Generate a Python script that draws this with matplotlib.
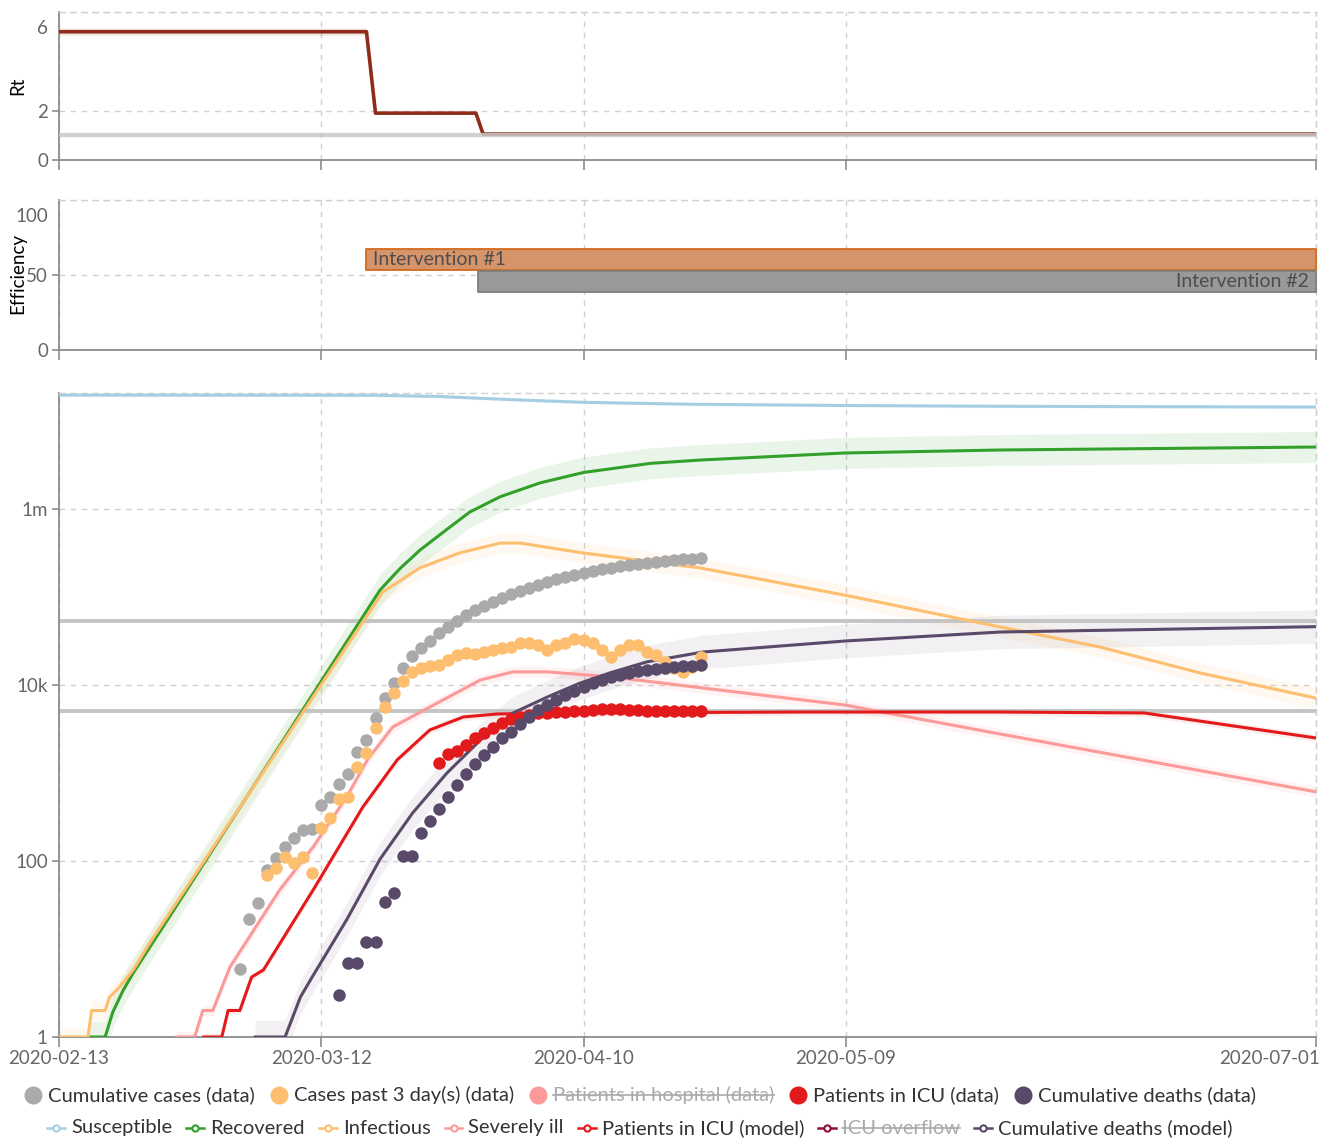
import numpy as np
import matplotlib
matplotlib.use('Agg')
import matplotlib.pyplot as plt
import matplotlib.transforms as mtransforms
from matplotlib.lines import Line2D
from matplotlib.ticker import NullLocator

plt.rcParams['font.family'] = ['Lato', 'DejaVu Sans']

# x axis: days since 2020-02-13
tick_days = [0, 29, 58, 87, 139]
tick_labels = ['2020-02-13', '2020-03-12', '2020-04-10', '2020-05-09', '2020-07-01']

# Rt panel
rt_days = [0, 34, 35, 46.1, 46.9, 139]
rt_values = [5.2, 5.2, 1.9, 1.9, 1.05, 1.05]
rt_rel_spread = 0.03
rt_reference = 1.0

# interventions (efficiency range in %)
int_names = ['Intervention #1', 'Intervention #2']
int_start = [34, 46.3]
int_end = [139, 139]
int_low = [53.3, 38.7]
int_high = [67.3, 52.7]

# observed data
cases_days = np.arange(20, 72)
cases = [6, 22, 33, 79, 108, 144, 183, 225, 228, 433,
         533, 749, 974, 1730, 2370, 4220, 7100, 10540, 15600, 21360,
         26320, 31620, 38970, 45600, 53330, 62300, 71000, 79000, 87650, 97300,
         108200, 117000, 126600, 136900, 148100, 160200, 168800, 178000, 187400, 197000,
         208100, 213600, 225000, 231000, 237100, 243400, 250000, 256400, 263200, 270200,
         273000, 277300]

recent_days = np.arange(23, 72)
recent = [69, 83, 111, 95, 111, 73, 237, 308, 506, 533,
          1170, 1688, 3245, 5620, 8103, 11100, 14060, 15600, 16440, 16880,
          19240, 21900, 23100, 22500, 23710, 25000, 26320, 27020, 30000, 30000,
          28500, 25000, 28500, 30000, 33310, 32450, 30000, 25000, 20810, 25000,
          28500, 28500, 23710, 21900, 18260, 15600, 14060, 16020, 20810]

icu_days = np.arange(42, 72)
icu = [1300, 1640, 1780, 2080, 2500, 2850, 3250, 3700, 4110, 4330,
       4560, 4800, 4810, 4930, 4940, 5060, 5070, 5190, 5330, 5340,
       5330, 5200, 5190, 5070, 5060, 5070, 5060, 5070, 5060, 5070]

deaths_days = np.arange(31, 72)
deaths = [3, 7, 7, 12, 12, 34, 43, 114, 114, 208,
          285, 390, 533, 730, 974, 1266, 1602, 1970, 2500, 2922,
          3603, 4326, 5195, 5921, 6748, 7690, 8538, 9479, 10540, 11400,
          12300, 12990, 13690, 14430, 14810, 15200, 15600, 16020, 16440, 16600,
          16880]

# model curves
susc_days = [0, 35, 42, 50, 58, 70, 87, 104, 139]
susc = [1.97e7, 1.96e7, 1.90e7, 1.75e7, 1.63e7, 1.55e7, 1.50e7, 1.47e7, 1.44e7]

rec_days = [3.4, 5.1, 5.95, 7.1, 8.2, 35.5, 37.7, 39.9, 43.2, 45.4, 48.8, 53.2, 58, 65.4, 70.9, 86.9, 104, 139]
rec = [1, 1, 1.92, 3.4, 5.33, 1.2e5, 2.1e5, 3.4e5, 6.2e5, 9.2e5, 1.38e6, 1.98e6, 2.6e6, 3.3e6, 3.6e6, 4.33e6, 4.68e6, 5.06e6]

inf_days = [0, 3.2, 3.6, 5.1, 5.6, 6.7, 8.2, 10.1, 35.8, 39.9, 44.3, 48.8, 51, 57.9, 70.9, 86.9, 104.1, 115.1, 126.2, 139]
inf = [1, 1, 2, 2, 2.85, 3.7, 5.77, 12, 1.14e5, 2.14e5, 3.17e5, 4.1e5, 4.1e5, 3.17e5, 2.14e5, 1.05e5, 4.56e4, 2.7e4, 1.37e4, 7.1e3]

sev_days = [13, 15, 15.9, 17.0, 18.9, 24.4, 28.1, 31.8, 34.1, 36.9, 41, 46.6, 50.2, 54, 61.3, 71.2, 86.9, 104.1, 139]
sev = [1, 1, 2, 2, 6.23, 46.8, 144, 533, 1410, 3330, 5620, 11400, 14100, 14100, 12300, 9240, 5920, 2770, 611]

icum_days = [16, 18, 18.7, 20, 21.3, 22.6, 28.1, 33.6, 37.4, 41, 44.7, 48.4, 54, 82, 104, 120, 139]
icum = [1, 1, 2, 2, 4.8, 5.77, 46.8, 411, 1410, 3080, 4330, 4680, 4800, 4930, 4930, 4810, 2500]

deathm_days = [21.7, 25.0, 26.7, 28.1, 31.8, 35.5, 39.1, 42.9, 46.6, 50.2, 54, 57.6, 61.3, 65, 71.2, 86.9, 104.1, 139]
deathm = [1, 1, 2.85, 5.0, 21.4, 105, 351, 1000, 2370, 4800, 7300, 10500, 14100, 18300, 23700, 31600, 40000, 46000]

hospital_beds = 53300
icu_beds = 5070

C_SUSC = '#a6cee3'
C_REC = '#33a02c'
C_INF = '#fdbf6f'
C_SEV = '#fb9a99'
C_ICU = '#e31a1c'
C_OVER = '#900c3f'
C_DEATH = '#5a4a6a'
C_CASES = '#aaaaaa'
C_RT = '#8e2c1b'

W, H = 1331, 1140
fig = plt.figure(figsize=(W / 100, H / 100), dpi=100)


def fx(px):
    return px / W


def fy(py):
    return 1 - py / H


def make_axes(top, bottom):
    return fig.add_axes([fx(59), fy(bottom), fx(1316) - fx(59), (bottom - top) / H])


def style(a, labels=False):
    a.set_xlim(0, 139)
    a.set_xticks(tick_days)
    if labels:
        a.set_xticklabels(tick_labels)
    else:
        a.set_xticklabels([])
    for s in ['left', 'bottom']:
        a.spines[s].set_color('#8c8c8c')
        a.spines[s].set_linewidth(1.3)
    for s in ['top', 'right']:
        a.spines[s].set_color('#d0d0d0')
        a.spines[s].set_linestyle((0, (4, 4)))
        a.spines[s].set_linewidth(1)
    a.grid(True, color='#d0d0d0', linestyle=(0, (4, 4)), linewidth=1)
    a.set_axisbelow(True)
    a.tick_params(axis='x', length=7, width=1.2, color='#8c8c8c', labelcolor='#666666',
                  labelsize=13.5, pad=2)
    a.tick_params(axis='y', length=5, width=1.2, color='#8c8c8c', labelcolor='#666666',
                  labelsize=13.5, pad=3)


def top_label(a, value, text):
    a.annotate(text, xy=(0, value), xycoords=('axes fraction', 'data'),
               xytext=(-8, -12), textcoords='offset points', ha='right', va='center',
               fontsize=13.5, color='#666666')


# ---- Rt ----
ax_rt = make_axes(12, 160)
style(ax_rt)
ax_rt.set_ylim(0, 6)
ax_rt.set_yticks([0, 2, 6])
ax_rt.set_yticklabels(['0', '2', ''])
ax_rt.yaxis.get_major_ticks()[-1].tick1line.set_visible(False)
top_label(ax_rt, 6, '6')
rt = np.array(rt_values)
ax_rt.fill_between(rt_days, rt * (1 - rt_rel_spread), rt * (1 + rt_rel_spread),
                   color=C_RT, alpha=0.1, linewidth=0, zorder=2)
ax_rt.plot(rt_days, rt_values, color=C_RT, lw=2.6, zorder=3)
ax_rt.axhline(rt_reference, color='#c8c8c8', lw=3, alpha=0.85, zorder=4)
fig.text(fx(18), fy(86), 'Rt', rotation=90, ha='center', va='center', fontsize=13.5, color='black')

# ---- Efficiency ----
ax_eff = make_axes(200, 350)
style(ax_eff)
ax_eff.set_ylim(0, 100)
ax_eff.set_yticks([0, 50, 100])
ax_eff.set_yticklabels(['0', '50', ''])
ax_eff.yaxis.get_major_ticks()[-1].tick1line.set_visible(False)
top_label(ax_eff, 100, '100')
int_fill = ['#d6946a', '#999999']
int_edge = ['#d2691e', '#7f7f7f']
for i in range(2):
    ax_eff.fill_between([int_start[i], int_end[i]], int_low[i], int_high[i],
                        facecolor=int_fill[i], edgecolor=int_edge[i], linewidth=1.3, zorder=3)
ax_eff.annotate(int_names[0], xy=(int_start[0], (int_low[0] + int_high[0]) / 2),
                xytext=(5, 0), textcoords='offset points', ha='left', va='center',
                fontsize=14, color='#4d4d4d', zorder=5)
ax_eff.annotate(int_names[1], xy=(int_end[1], (int_low[1] + int_high[1]) / 2),
                xytext=(-5, 0), textcoords='offset points', ha='right', va='center',
                fontsize=14, color='#4d4d4d', zorder=5)
fig.text(fx(18), fy(274), 'Efficiency', rotation=90, ha='center', va='center', fontsize=13.5, color='black')

# ---- main log plot ----
ax = make_axes(393, 1037)
style(ax, labels=True)
ax.set_yscale('log')
ax.set_ylim(1, 2.08e7)
ax.set_yticks([1, 100, 1e4, 1e6])
ax.set_yticklabels(['1', '100', '10k', '1m'])
ax.yaxis.set_minor_locator(NullLocator())

models = [
    (susc_days, susc, C_SUSC, 1.04, 0.13),
    (rec_days, rec, C_REC, 1.5, 0.1),
    (inf_days, inf, C_INF, 1.3, 0.1),
    (sev_days, sev, C_SEV, 1.15, 0.12),
    (icum_days, icum, C_ICU, 1.1, 0.08),
    (deathm_days, deathm, C_DEATH, 1.55, 0.08),
]
for d, v, c, f, al in models:
    v = np.array(v)
    ax.fill_between(d, v / f, v * f, color=c, alpha=al, linewidth=0, zorder=1)

ax.axhline(hospital_beds, color='#c4c4c4', lw=2.8, zorder=2)
ax.axhline(icu_beds, color='#c4c4c4', lw=2.8, zorder=2)

for d, v, c, f, al in models:
    ax.plot(d, v, color=c, lw=2.2, zorder=3)

ms = 9
ax.plot(cases_days, cases, 'o', color=C_CASES, ms=ms, mew=0, zorder=4)
ax.plot(recent_days, recent, 'o', color=C_INF, ms=ms, mew=0, zorder=4)
ax.plot(icu_days, icu, 'o', color=C_ICU, ms=ms, mew=0, zorder=4)
ax.plot(deaths_days, deaths, 'o', color=C_DEATH, ms=ms, mew=0, zorder=4)

# keep the last x tick label inside the figure
fig.canvas.draw()
lab = ax.get_xticklabels()[-1]
lab.set_horizontalalignment('right')
lab.set_transform(lab.get_transform() + mtransforms.ScaledTranslation(4 / 100, 0, fig.dpi_scale_trans))

# ---- legend (two rows) ----
renderer = fig.canvas.get_renderer()
LEG_SIZE = 14.5


def text_width(s):
    t = fig.text(0, 0, s, fontsize=LEG_SIZE)
    w = t.get_window_extent(renderer).width
    t.remove()
    return w


row1 = [('Cumulative cases (data)', C_CASES, False),
        ('Cases past 3 day(s) (data)', C_INF, False),
        ('Patients in hospital (data)', C_SEV, True),
        ('Patients in ICU (data)', C_ICU, False),
        ('Cumulative deaths (data)', C_DEATH, False)]
row2 = [('Susceptible', C_SUSC, False),
        ('Recovered', C_REC, False),
        ('Infectious', C_INF, False),
        ('Severely ill', C_SEV, False),
        ('Patients in ICU (model)', C_ICU, False),
        ('ICU overflow', C_OVER, True),
        ('Cumulative deaths (model)', C_DEATH, False)]


def draw_row(items, cy, marker_w, text_gap, item_gap, kind, center=640):
    widths = [text_width(s) for s, _, _ in items]
    total = sum(marker_w + text_gap + w for w in widths) + item_gap * (len(items) - 1)
    x = center - total / 2
    for (s, c, hidden), w in zip(items, widths):
        if kind == 'dot':
            fig.add_artist(Line2D([fx(x + marker_w / 2)], [fy(cy)], marker='o', ms=13,
                                  color=c, mew=0, transform=fig.transFigure))
        else:
            fig.add_artist(Line2D([fx(x), fx(x + marker_w)], [fy(cy), fy(cy)], color=c,
                                  lw=1.8, transform=fig.transFigure))
            fig.add_artist(Line2D([fx(x + marker_w / 2)], [fy(cy)], marker='o', ms=4.5,
                                  mfc='white', mec=c, mew=1.5, transform=fig.transFigure))
        tx = x + marker_w + text_gap
        fig.text(fx(tx), fy(cy), s, fontsize=LEG_SIZE, ha='left', va='center',
                 color='#aaaaaa' if hidden else '#333333')
        if hidden:
            fig.add_artist(Line2D([fx(tx), fx(tx + w)], [fy(cy), fy(cy)], color='#aaaaaa',
                                  lw=1.2, transform=fig.transFigure))
        x = tx + w + item_gap


draw_row(row1, 1095, 18, 6, 15, 'dot')
draw_row(row2, 1128, 18, 6, 14, 'line')

fig.savefig('out.png', dpi=100)
